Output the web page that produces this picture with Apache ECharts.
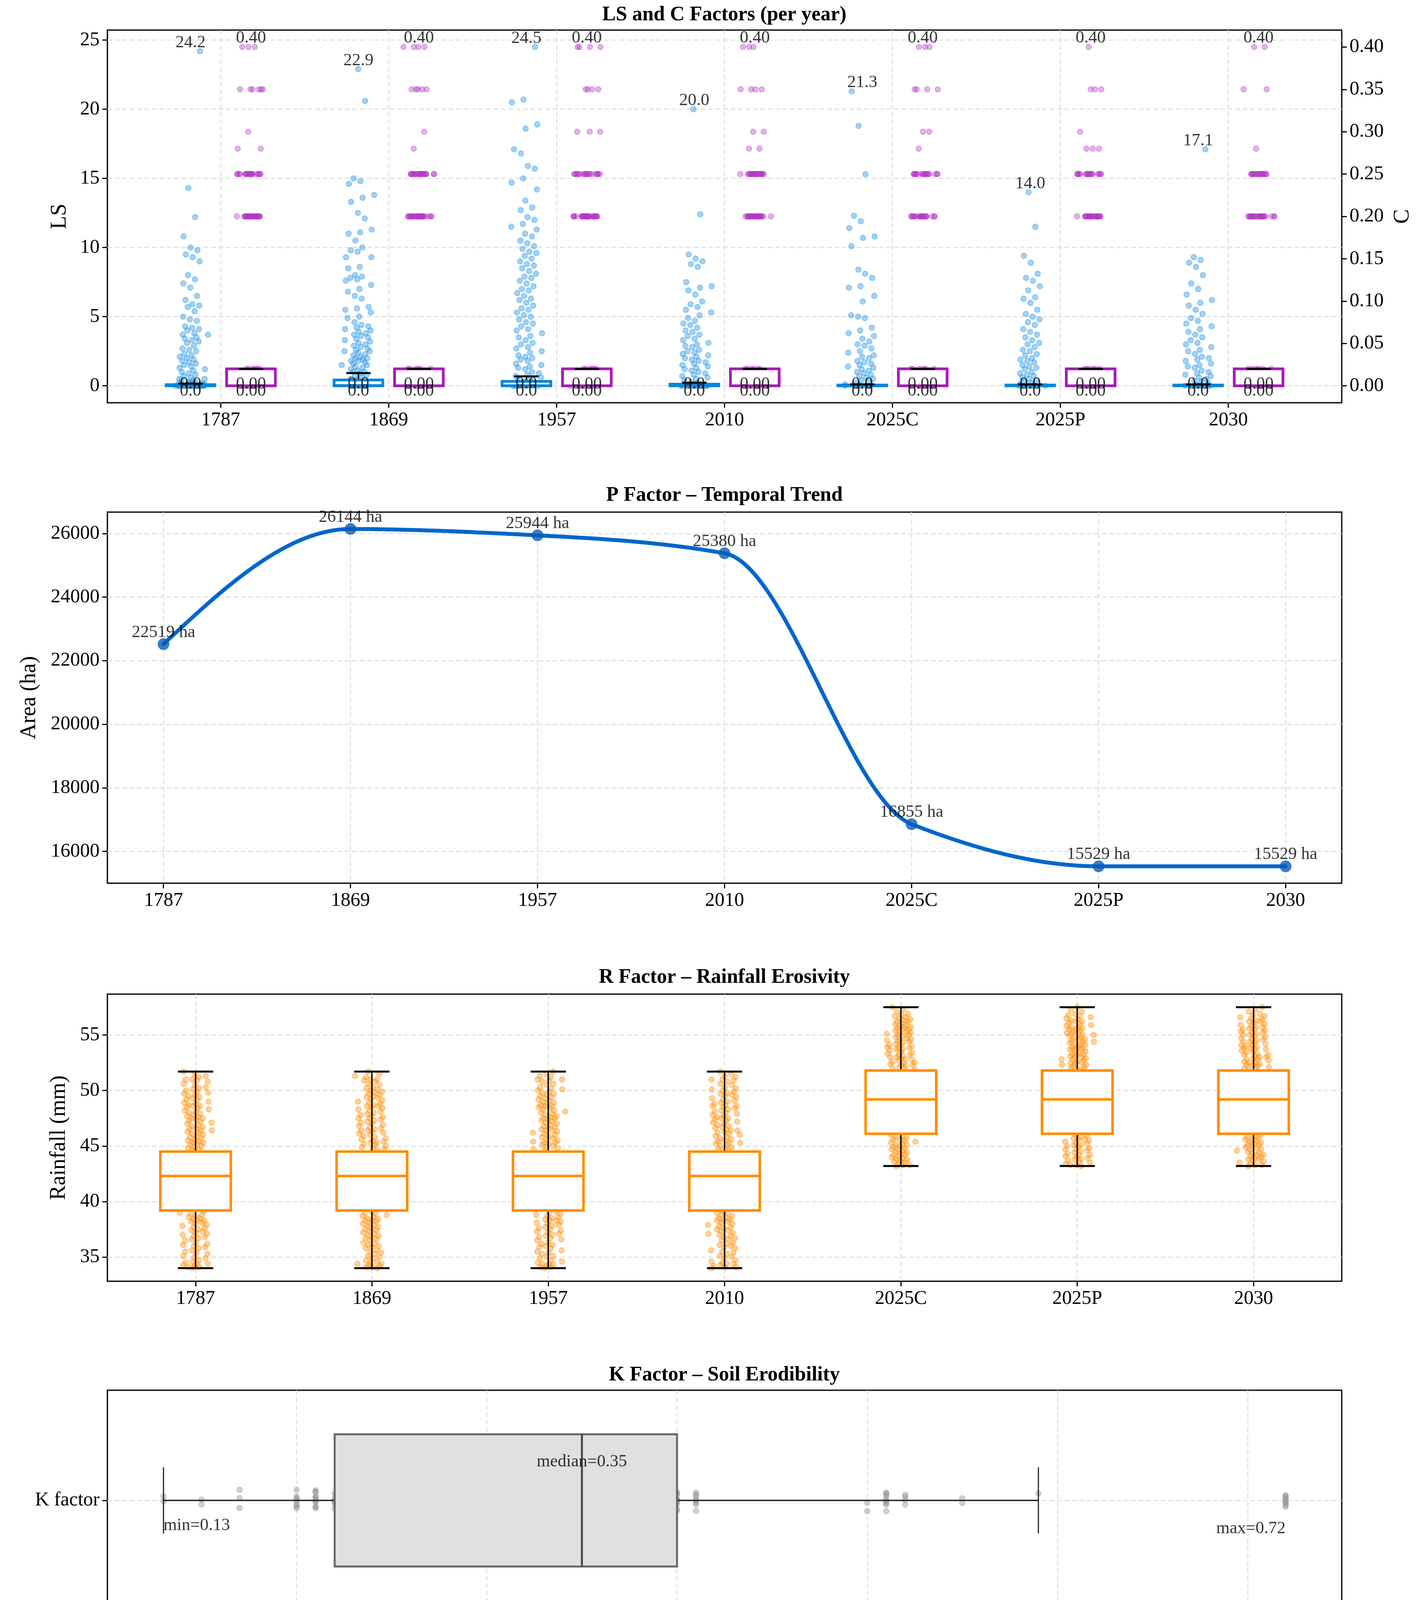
<!DOCTYPE html>
<html>
<head>
<meta charset="utf-8">
<script src="https://cdn.jsdelivr.net/npm/echarts@6/dist/echarts.min.js"></script>
<style>
html,body{margin:0;padding:0;background:#ffffff;}
#c{width:3639px;height:4288px;}
</style>
</head>
<body>
<div id="c"></div>
<script>
// ---------------- DATA ----------------
const years = ['1787', '1869', '1957', '2010', '2025C', '2025P', '2030'];

// LS factor samples per year
const ls1787 = [24.2, 14.3, 12.2, 10.8, 10.0, 9.8, 9.5, 9.3, 9.0, 8.0, 7.7, 7.4, 7.1, 6.5, 6.2, 5.9, 5.8, 5.7, 5.4, 5.0, 4.8, 4.7, 4.3, 4.2, 4.1, 4.0, 3.8, 3.7, 3.7, 3.5, 3.4, 3.3, 3.2, 3.1, 2.9, 2.7, 2.6, 2.5, 2.3, 2.2, 2.1, 2.0, 1.9, 1.8, 1.7, 1.6, 1.5, 1.4, 1.3, 1.2, 1.1, 1.0, 0.9, 0.8, 0.7, 0.6, 0.5, 0.5, 0.4, 0.4, 0.3, 0.3, 0.2, 0.2, 0.2, 0.1, 0.1, 0.1, 0.1, 0.05, 0.05, 0.05, 0, 0, 0, 0, 0, 0, 0, 0, 0, 0, 0, 0, 0, 0, 0, 0];
const ls1869 = [22.9, 20.6, 15.0, 14.8, 14.6, 13.8, 13.6, 13.3, 12.5, 12.1, 11.3, 11.1, 11.0, 10.5, 10.0, 9.8, 9.7, 9.3, 9.3, 8.6, 8.5, 8.0, 7.9, 7.8, 7.7, 7.6, 7.3, 7.0, 6.8, 6.5, 6.3, 5.7, 5.6, 5.5, 5.3, 5.0, 4.9, 4.6, 4.4, 4.3, 4.2, 4.1, 4.0, 3.9, 3.8, 3.7, 3.6, 3.5, 3.4, 3.3, 3.2, 3.1, 3.0, 2.9, 2.8, 2.7, 2.6, 2.5, 2.5, 2.4, 2.3, 2.2, 2.1, 2.0, 2.0, 1.9, 1.8, 1.8, 1.7, 1.6, 1.5, 1.5, 1.4, 1.3, 1.2, 1.1, 1.0, 1.0, 0.9, 0.8, 0.7, 0.6, 0.5, 0.4, 0.3, 0.2, 0.1, 0, 0, 0, 0, 0, 0, 0, 0, 0, 0];
const ls1957 = [24.5, 20.7, 20.5, 18.9, 18.6, 17.1, 16.8, 15.9, 15.7, 15.0, 14.7, 14.2, 13.4, 12.9, 12.7, 12.2, 12.0, 11.7, 11.5, 11.3, 11.0, 10.8, 10.5, 10.3, 10.1, 9.9, 9.7, 9.6, 9.4, 9.2, 9.0, 8.8, 8.7, 8.5, 8.3, 8.1, 7.9, 7.8, 7.6, 7.4, 7.2, 7.0, 6.9, 6.7, 6.5, 6.3, 6.2, 6.0, 5.8, 5.6, 5.5, 5.3, 5.1, 5.0, 4.8, 4.6, 4.5, 4.3, 4.1, 4.0, 3.8, 3.6, 3.5, 3.3, 3.1, 3.0, 2.8, 2.7, 2.5, 2.4, 2.2, 2.1, 2.0, 1.9, 1.8, 1.6, 1.5, 1.4, 1.3, 1.2, 1.0, 0.9, 0.8, 0.7, 0.6, 0.5, 0.4, 0.3, 0.3, 0.2, 0.2, 0.1, 0.1, 0, 0, 0, 0, 0, 0, 0, 0];
const ls2010 = [20.0, 12.4, 9.5, 9.2, 9.0, 8.8, 8.6, 7.5, 7.2, 7.1, 6.9, 6.6, 6.1, 5.9, 5.7, 5.5, 5.3, 5.1, 4.9, 4.7, 4.5, 4.4, 4.2, 4.0, 3.9, 3.7, 3.6, 3.4, 3.3, 3.1, 3.0, 2.9, 2.8, 2.6, 2.5, 2.4, 2.3, 2.2, 2.1, 2.0, 1.9, 1.8, 1.7, 1.6, 1.5, 1.4, 1.3, 1.2, 1.1, 1.0, 0.9, 0.8, 0.7, 0.6, 0.5, 0.4, 0.3, 0.2, 0.1, 0.1, 0, 0, 0, 0, 0, 0, 0, 0, 0, 0];
const ls2025C = [21.3, 18.8, 15.3, 12.3, 11.9, 11.4, 10.8, 10.7, 10.1, 8.4, 8.1, 7.8, 7.2, 7.1, 6.5, 6.1, 5.1, 5.0, 4.9, 4.2, 4.0, 3.8, 3.6, 3.4, 3.2, 3.0, 2.9, 2.7, 2.5, 2.4, 2.2, 2.1, 2.0, 1.8, 1.7, 1.6, 1.5, 1.4, 1.3, 1.2, 1.1, 1.0, 0.9, 0.8, 0.7, 0.6, 0.5, 0.4, 0.3, 0.2, 0.1, 0, 0, 0, 0, 0, 0, 0, 0, 0];
const ls2025P = [14.0, 11.5, 9.4, 8.9, 8.1, 7.8, 7.6, 7.2, 6.9, 6.4, 6.3, 6.0, 5.5, 5.2, 5.0, 4.8, 4.6, 4.4, 4.1, 3.9, 3.7, 3.5, 3.3, 3.1, 3.0, 2.8, 2.6, 2.5, 2.3, 2.2, 2.0, 1.9, 1.8, 1.7, 1.5, 1.4, 1.3, 1.2, 1.0, 0.9, 0.8, 0.7, 0.6, 0.5, 0.4, 0.3, 0.2, 0.1, 0, 0, 0, 0, 0, 0, 0, 0];
const ls2030 = [17.1, 9.3, 9.1, 8.9, 8.6, 8.0, 7.4, 7.0, 6.6, 6.2, 6.0, 5.8, 5.5, 5.2, 4.9, 4.7, 4.5, 4.3, 4.1, 3.9, 3.7, 3.5, 3.3, 3.1, 3.0, 2.8, 2.6, 2.5, 2.3, 2.1, 2.0, 1.9, 1.8, 1.6, 1.5, 1.4, 1.3, 1.1, 1.0, 0.9, 0.8, 0.7, 0.6, 0.5, 0.4, 0.3, 0.2, 0.1, 0, 0, 0, 0, 0, 0, 0, 0];
const lsMin = [0, 0, 0, 0, 0, 0, 0];
const lsQ1 = [0, 0, 0, 0, 0, 0, 0];
const lsMedian = [0, 0.03, 0.02, 0.01, 0, 0, 0];
const lsQ3 = [0.08, 0.42, 0.32, 0.12, 0.05, 0.05, 0.05];
const lsWhiskerHigh = [0.16, 0.92, 0.68, 0.22, 0.1, 0.1, 0.1];

// C factor samples per year
const c1787 = [0.40, 0.40, 0.40, 0.35, 0.35, 0.35, 0.35, 0.35, 0.35, 0.30, 0.28, 0.28, 0.25, 0.25, 0.25, 0.25, 0.25, 0.25, 0.25, 0.25, 0.25, 0.25, 0.25, 0.25, 0.25, 0.25, 0.25, 0.25, 0.25, 0.25, 0.25, 0.25, 0.20, 0.20, 0.20, 0.20, 0.20, 0.20, 0.20, 0.20, 0.20, 0.20, 0.20, 0.20, 0.20, 0.20, 0.20, 0.20, 0.20, 0.20, 0.20, 0.20, 0.20, 0.20, 0.20, 0.20, 0.02, 0.02, 0.02, 0.02, 0.02, 0.02, 0.01, 0.01, 0.01, 0.01, 0, 0, 0, 0, 0, 0, 0, 0];
const c1869 = [0.40, 0.40, 0.40, 0.40, 0.35, 0.35, 0.35, 0.35, 0.35, 0.30, 0.28, 0.25, 0.25, 0.25, 0.25, 0.25, 0.25, 0.25, 0.25, 0.25, 0.25, 0.25, 0.25, 0.25, 0.25, 0.25, 0.25, 0.25, 0.25, 0.25, 0.25, 0.25, 0.25, 0.20, 0.20, 0.20, 0.20, 0.20, 0.20, 0.20, 0.20, 0.20, 0.20, 0.20, 0.20, 0.20, 0.20, 0.20, 0.20, 0.20, 0.20, 0.20, 0.20, 0.20, 0.20, 0.20, 0.20, 0.20, 0.20, 0.02, 0.02, 0.02, 0.02, 0.02, 0.02, 0.01, 0.01, 0.01, 0.01, 0, 0, 0, 0, 0, 0, 0, 0];
const c1957 = [0.40, 0.40, 0.40, 0.40, 0.35, 0.35, 0.35, 0.35, 0.30, 0.30, 0.30, 0.25, 0.25, 0.25, 0.25, 0.25, 0.25, 0.25, 0.25, 0.25, 0.25, 0.25, 0.25, 0.25, 0.25, 0.25, 0.25, 0.25, 0.25, 0.25, 0.25, 0.20, 0.20, 0.20, 0.20, 0.20, 0.20, 0.20, 0.20, 0.20, 0.20, 0.20, 0.20, 0.20, 0.20, 0.20, 0.20, 0.20, 0.20, 0.20, 0.20, 0.20, 0.20, 0.20, 0.20, 0.20, 0.20, 0.20, 0.20, 0.02, 0.02, 0.02, 0.02, 0.02, 0.02, 0.01, 0.01, 0.01, 0.01, 0, 0, 0, 0, 0, 0, 0, 0];
const c2010 = [0.40, 0.40, 0.40, 0.35, 0.35, 0.35, 0.35, 0.30, 0.30, 0.28, 0.28, 0.25, 0.25, 0.25, 0.25, 0.25, 0.25, 0.25, 0.25, 0.25, 0.25, 0.25, 0.25, 0.25, 0.25, 0.25, 0.25, 0.25, 0.25, 0.25, 0.25, 0.20, 0.20, 0.20, 0.20, 0.20, 0.20, 0.20, 0.20, 0.20, 0.20, 0.20, 0.20, 0.20, 0.20, 0.20, 0.20, 0.20, 0.20, 0.20, 0.20, 0.20, 0.20, 0.20, 0.20, 0.02, 0.02, 0.02, 0.02, 0.02, 0.02, 0.01, 0.01, 0.01, 0.01, 0, 0, 0, 0, 0, 0, 0, 0];
const c2025C = [0.40, 0.40, 0.40, 0.35, 0.35, 0.35, 0.35, 0.30, 0.30, 0.28, 0.25, 0.25, 0.25, 0.25, 0.25, 0.25, 0.25, 0.25, 0.25, 0.25, 0.25, 0.25, 0.25, 0.25, 0.25, 0.25, 0.25, 0.25, 0.20, 0.20, 0.20, 0.20, 0.20, 0.20, 0.20, 0.20, 0.20, 0.20, 0.20, 0.20, 0.20, 0.20, 0.20, 0.20, 0.20, 0.20, 0.20, 0.20, 0.02, 0.02, 0.02, 0.02, 0.02, 0.02, 0.01, 0.01, 0.01, 0.01, 0, 0, 0, 0, 0, 0, 0, 0];
const c2025P = [0.40, 0.35, 0.35, 0.35, 0.30, 0.28, 0.28, 0.28, 0.25, 0.25, 0.25, 0.25, 0.25, 0.25, 0.25, 0.25, 0.25, 0.25, 0.25, 0.25, 0.25, 0.25, 0.25, 0.25, 0.25, 0.25, 0.20, 0.20, 0.20, 0.20, 0.20, 0.20, 0.20, 0.20, 0.20, 0.20, 0.20, 0.20, 0.20, 0.20, 0.20, 0.20, 0.20, 0.20, 0.20, 0.20, 0.20, 0.20, 0.02, 0.02, 0.02, 0.02, 0.02, 0.02, 0.01, 0.01, 0.01, 0.01, 0, 0, 0, 0, 0, 0, 0, 0];
const c2030 = [0.40, 0.40, 0.35, 0.35, 0.28, 0.25, 0.25, 0.25, 0.25, 0.25, 0.25, 0.25, 0.25, 0.25, 0.25, 0.25, 0.25, 0.25, 0.25, 0.25, 0.25, 0.25, 0.25, 0.20, 0.20, 0.20, 0.20, 0.20, 0.20, 0.20, 0.20, 0.20, 0.20, 0.20, 0.20, 0.20, 0.20, 0.20, 0.20, 0.20, 0.20, 0.20, 0.20, 0.20, 0.20, 0.20, 0.20, 0.02, 0.02, 0.02, 0.02, 0.02, 0.02, 0.01, 0.01, 0.01, 0.01, 0, 0, 0, 0, 0, 0, 0, 0];
const cMin = [0, 0, 0, 0, 0, 0, 0];
const cQ1 = [0, 0, 0, 0, 0, 0, 0];
const cMedian = [0, 0, 0, 0, 0, 0, 0];
const cQ3 = [0.02, 0.02, 0.02, 0.02, 0.02, 0.02, 0.02];
const cWhiskerHigh = [0.02, 0.02, 0.02, 0.02, 0.02, 0.02, 0.02];

// P factor (area, ha)
const pArea = [22519, 26144, 25944, 25380, 16855, 15529, 15529];

// R factor samples (rainfall, mm)
const rPast = [34.0, 34.1, 34.1, 34.2, 34.3, 34.4, 34.4, 34.5, 34.6, 34.7, 34.9, 35.0, 35.1, 35.3, 35.4, 35.5, 35.6, 35.8, 35.9, 36.0, 36.1, 36.2, 36.3, 36.5, 36.6, 36.7, 36.8, 36.9, 37.0, 37.1, 37.2, 37.3, 37.4, 37.5, 37.6, 37.7, 37.8, 37.9, 38.0, 38.1, 38.2, 38.3, 38.3, 38.4, 38.5, 38.6, 38.7, 38.8, 38.9, 39.0, 39.1,
  39.5, 40.3, 40.9, 41.6, 42.2, 42.8, 43.5, 44.1,
  44.6, 44.7, 44.8, 44.9, 45.0, 45.1, 45.2, 45.3, 45.3, 45.4, 45.5, 45.6, 45.7, 45.8, 45.9, 46.0, 46.1, 46.2, 46.3, 46.4, 46.4, 46.5, 46.6, 46.7, 46.8, 46.9, 47.0, 47.1, 47.2, 47.3, 47.4, 47.5, 47.5, 47.6, 47.7, 47.8, 47.9, 48.0, 48.1, 48.2, 48.3, 48.4, 48.5, 48.6, 48.6, 48.7, 48.8, 48.9, 49.0, 49.1, 49.2, 49.3, 49.4, 49.5, 49.6, 49.7, 49.8, 49.9, 50.0, 50.1, 50.2, 50.3, 50.5, 50.6, 50.8, 50.9, 51.0, 51.0, 51.2, 51.3, 51.5, 51.7];
const rFuture = [43.2, 43.3, 43.3, 43.4, 43.5, 43.6, 43.7, 43.8, 43.8, 43.9, 44.0, 44.1, 44.2, 44.2, 44.3, 44.4, 44.5, 44.6, 44.7, 44.7, 44.8, 44.9, 45.0, 45.1, 45.1, 45.2, 45.3, 45.4, 45.5, 45.6, 45.6, 45.7, 45.8, 45.9, 46.0,
  46.6, 47.3, 47.9, 48.6, 49.4, 50.1, 50.7, 51.4,
  51.9, 52.0, 52.0, 52.1, 52.2, 52.3, 52.3, 52.4, 52.5, 52.5, 52.6, 52.7, 52.8, 52.8, 52.9, 53.0, 53.0, 53.1, 53.2, 53.2, 53.3, 53.4, 53.5, 53.6, 53.7, 53.7, 53.8, 53.8, 53.9, 54.0, 54.1, 54.1, 54.2, 54.3, 54.4, 54.4, 54.5, 54.6, 54.6, 54.7, 54.8, 54.9, 55.0, 55.0, 55.1, 55.2, 55.2, 55.3, 55.4, 55.5, 55.5, 55.6, 55.7, 55.7, 55.8, 55.9, 56.0, 56.1, 56.2, 56.2, 56.3, 56.4, 56.5, 56.6, 56.7, 56.8, 56.9, 57.1, 57.3, 57.5];
const rWhiskerLow = [34.0, 34.0, 34.0, 34.0, 43.2, 43.2, 43.2];
const rQ1 = [39.2, 39.2, 39.2, 39.2, 46.1, 46.1, 46.1];
const rMedian = [42.3, 42.3, 42.3, 42.3, 49.2, 49.2, 49.2];
const rQ3 = [44.5, 44.5, 44.5, 44.5, 51.8, 51.8, 51.8];
const rWhiskerHigh = [51.7, 51.7, 51.7, 51.7, 57.5, 57.5, 57.5];

// K factor samples
const kPoints = [0.13, 0.13, 0.15, 0.15, 0.17, 0.17, 0.17, 0.20, 0.20, 0.20, 0.20, 0.20, 0.20, 0.20, 0.20, 0.21, 0.21, 0.21, 0.21, 0.21, 0.21, 0.21, 0.21, 0.21, 0.21, 0.21, 0.21, 0.22, 0.22, 0.22, 0.22, 0.22, 0.22, 0.26, 0.30, 0.33, 0.35, 0.38, 0.40, 0.40, 0.40, 0.40, 0.40, 0.40, 0.40, 0.40, 0.40, 0.40, 0.41, 0.41, 0.41, 0.41, 0.41, 0.41, 0.41, 0.41, 0.50, 0.50, 0.51, 0.51, 0.51, 0.51, 0.51, 0.51, 0.51, 0.51, 0.51, 0.51, 0.52, 0.52, 0.52, 0.52, 0.55, 0.55, 0.59, 0.72, 0.72, 0.72, 0.72, 0.72, 0.72, 0.72, 0.72, 0.72, 0.72];
const kMin = 0.13, kQ1 = 0.22, kMedian = 0.35, kQ3 = 0.40, kWhiskerHigh = 0.59, kMax = 0.72;

// ---------------- BUILD ----------------
const FONT = 'Liberation Serif';
const lsGroups = [ls1787, ls1869, ls1957, ls2010, ls2025C, ls2025P, ls2030];
const cGroups = [c1787, c1869, c1957, c2010, c2025C, c2025P, c2030];
const rGroups = [rPast, rPast, rPast, rPast, rFuture, rFuture, rFuture];
const catIdx = years.map((_, i) => i);

function frac(v) { return v - Math.floor(v); }
// deterministic (non-random) spreading of overlapping points around a position
function spreadOffset(k, g, seed) {
  const u = frac((k + 1) * 0.6180339887 + g * 0.1234 + seed);
  const w = frac((k + 1) * 0.7548776662 + g * 0.3571 + seed * 1.7);
  return (u + w - 1);
}
function jitterVertical(groups, offset, spread, seed) {
  const out = [];
  groups.forEach((vals, i) => vals.forEach((v, k) => {
    out.push([i + offset + spreadOffset(k, i, seed) * spread, v]);
  }));
  return out;
}

const LS_OFF = -0.18, C_OFF = 0.18;

function boxRenderer(o) {
  return function (params, api) {
    const pos = api.value(0), lo = api.value(1), q1 = api.value(2), med = api.value(3), q3 = api.value(4), hi = api.value(5);
    const c = o.horizontal ? (p, v) => api.coord([v, p]) : (p, v) => api.coord([p, v]);
    const hw = o.width / 2, cw = o.capWidth / 2;
    const ln = (a, b, style) => ({ type: 'line', shape: { x1: a[0], y1: a[1], x2: b[0], y2: b[1] }, style: style });
    const ws = { stroke: o.whiskerColor, lineWidth: o.whiskerWidth };
    const cs = { stroke: o.whiskerColor, lineWidth: o.capLineWidth };
    const a = c(pos - hw, q1), b = c(pos + hw, q3);
    const children = [
      ln(c(pos, q1), c(pos, lo), ws),
      ln(c(pos, q3), c(pos, hi), ws),
      ln(c(pos - cw, lo), c(pos + cw, lo), cs),
      { type: 'rect', shape: { x: Math.min(a[0], b[0]), y: Math.min(a[1], b[1]), width: Math.abs(b[0] - a[0]), height: Math.abs(b[1] - a[1]) },
        style: { fill: o.fill, stroke: o.color, lineWidth: o.lineWidth } },
      ln(c(pos - hw, med), c(pos + hw, med), { stroke: o.medianColor, lineWidth: o.medianWidth }),
      ln(c(pos - cw, hi), c(pos + cw, hi), cs)
    ];
    return { type: 'group', children: children };
  };
}

// PCHIP tangents for the P-factor curve shape
function pchipSlopes(y) {
  const n = y.length, d = [], m = new Array(n).fill(0);
  for (let k = 0; k < n - 1; k++) d.push(y[k + 1] - y[k]);
  for (let k = 1; k < n - 1; k++) {
    if (d[k - 1] * d[k] > 0) m[k] = 2 / (1 / d[k - 1] + 1 / d[k]);
  }
  const edge = (d0, d1) => {
    let mm = (3 * d0 - d1) / 2;
    if (Math.sign(mm) !== Math.sign(d0)) mm = 0;
    else if (Math.sign(d0) !== Math.sign(d1) && Math.abs(mm) > 3 * Math.abs(d0)) mm = 3 * d0;
    return mm;
  };
  m[0] = edge(d[0], d[1]);
  m[n - 1] = edge(d[n - 2], d[n - 3]);
  return m;
}
const pSlopes = pchipSlopes(pArea);

const gridLine = { show: true, lineStyle: { color: '#dcdcdc', width: 2.5, type: [12, 7] } };
const tickBase = { show: true, inside: false, length: 13, lineStyle: { color: '#000', width: 3 } };
const labelBase = { fontFamily: FONT, fontSize: 50, color: '#000', margin: 20 };
const nameStyle = { fontFamily: FONT, fontSize: 56, color: '#000' };
const noLine = { show: false, onZero: false };

function catXAxis(gridIndex, min, max) {
  return {
    gridIndex: gridIndex, type: 'value', min: min, max: max,
    axisLine: noLine,
    axisTick: Object.assign({}, tickBase, { customValues: catIdx }),
    axisLabel: Object.assign({}, labelBase, { customValues: catIdx, formatter: v => years[Math.round(v)] }),
    splitLine: gridLine
  };
}

// label helpers
const txtLabel = (text, dx, dy, align) => ({
  show: true, position: 'inside', formatter: text, offset: [dx, dy],
  fontFamily: FONT, fontSize: 44, color: '#000', align: align || 'center', verticalAlign: 'middle'
});
const lsLabelData = [], cLabelData = [];
years.forEach((y, i) => {
  const lsTop = Math.max.apply(null, lsGroups[i]);
  lsLabelData.push({ value: [i + LS_OFF, lsTop], label: txtLabel(lsTop.toFixed(1), 0, -22) });
  lsLabelData.push({ value: [i + LS_OFF, lsMedian[i]], label: txtLabel(lsMedian[i].toFixed(1), 0, -4) });
  lsLabelData.push({ value: [i + LS_OFF, lsMin[i]], label: txtLabel(lsMin[i].toFixed(1), 0, 14) });
  const cTop = Math.max.apply(null, cGroups[i]);
  cLabelData.push({ value: [i + C_OFF, cTop], label: txtLabel(cTop.toFixed(2), 0, -23) });
  cLabelData.push({ value: [i + C_OFF, cMedian[i]], label: txtLabel(cMedian[i].toFixed(2), 0, -4) });
  cLabelData.push({ value: [i + C_OFF, cMin[i]], label: txtLabel(cMin[i].toFixed(2), 0, 14) });
});

const labelSeriesBase = { type: 'scatter', symbolSize: 1, itemStyle: { color: 'rgba(0,0,0,0)' }, silent: true, z: 6 };

const kScatter = kPoints.map((v, k) => [v, 1 + spreadOffset(k, 0, 0.21) * 0.06]);

const FONT_TITLE = 'bold 52px "Liberation Serif"';
function titleText(text, y) {
  return { type: 'text', x: 1855, y: y, z: 10,
    style: { text: text, font: FONT_TITLE, fill: '#000', textFill: '#000', align: 'center', verticalAlign: 'middle', textAlign: 'center', textVerticalAlign: 'middle' } };
}

const option = {
  animation: false,
  backgroundColor: '#ffffff',
  textStyle: { fontFamily: FONT },
  graphic: [
    titleText('LS and C Factors (per year)', 39),
    titleText('P Factor \u2013 Temporal Trend', 1269),
    titleText('R Factor \u2013 Rainfall Erosivity', 2503),
    titleText('K Factor \u2013 Soil Erodibility', 3521)
  ],
  grid: [
    { left: 275, top: 77, width: 3161, height: 954, show: true, borderColor: '#111', borderWidth: 3.5, backgroundColor: 'transparent', outerBoundsMode: 'none', containLabel: false },
    { left: 275, top: 1311, width: 3161, height: 950, show: true, borderColor: '#111', borderWidth: 3.5, backgroundColor: 'transparent', outerBoundsMode: 'none', containLabel: false },
    { left: 275, top: 2545, width: 3161, height: 735, show: true, borderColor: '#111', borderWidth: 3.5, backgroundColor: 'transparent', outerBoundsMode: 'none', containLabel: false },
    { left: 275, top: 3559, width: 3161, height: 564, show: true, borderColor: '#111', borderWidth: 3.5, backgroundColor: 'transparent', outerBoundsMode: 'none', containLabel: false }
  ],
  xAxis: [
    catXAxis(0, -0.675, 6.675),
    catXAxis(1, -0.3, 6.3),
    catXAxis(2, -0.5, 6.5),
    {
      gridIndex: 3, type: 'value', min: 0.1005, max: 0.7495,
      axisLine: noLine,
      axisTick: Object.assign({}, tickBase, { customValues: [0.2, 0.3, 0.4, 0.5, 0.6, 0.7] }),
      axisLabel: Object.assign({}, labelBase, { customValues: [0.2, 0.3, 0.4, 0.5, 0.6, 0.7], formatter: v => v.toFixed(1) }),
      splitLine: gridLine,
      name: 'K value', nameLocation: 'middle', nameGap: 86, nameTextStyle: nameStyle
    }
  ],
  yAxis: [
    {
      gridIndex: 0, type: 'value', min: -1.225, max: 25.725, position: 'left',
      axisLine: noLine,
      axisTick: Object.assign({}, tickBase, { customValues: [0, 5, 10, 15, 20, 25] }),
      axisLabel: Object.assign({}, labelBase, { customValues: [0, 5, 10, 15, 20, 25], formatter: v => String(v) }),
      splitLine: gridLine,
      name: 'LS', nameLocation: 'middle', nameGap: 94, nameTextStyle: nameStyle
    },
    {
      gridIndex: 0, type: 'value', min: -0.02, max: 0.42, position: 'right',
      axisLine: noLine,
      axisTick: Object.assign({}, tickBase, { customValues: [0, 0.05, 0.1, 0.15, 0.2, 0.25, 0.3, 0.35, 0.4] }),
      axisLabel: Object.assign({}, labelBase, { customValues: [0, 0.05, 0.1, 0.15, 0.2, 0.25, 0.3, 0.35, 0.4], formatter: v => v.toFixed(2) }),
      splitLine: { show: false },
      name: 'C', nameLocation: 'middle', nameGap: 128, nameTextStyle: nameStyle
    },
    {
      gridIndex: 1, type: 'value', min: 14998, max: 26675,
      axisLine: noLine,
      axisTick: Object.assign({}, tickBase, { customValues: [16000, 18000, 20000, 22000, 24000, 26000] }),
      axisLabel: Object.assign({}, labelBase, { customValues: [16000, 18000, 20000, 22000, 24000, 26000], formatter: v => String(v) }),
      splitLine: gridLine,
      name: 'Area (ha)', nameLocation: 'middle', nameGap: 172, nameTextStyle: nameStyle
    },
    {
      gridIndex: 2, type: 'value', min: 32.825, max: 58.675,
      axisLine: noLine,
      axisTick: Object.assign({}, tickBase, { customValues: [35, 40, 45, 50, 55] }),
      axisLabel: Object.assign({}, labelBase, { customValues: [35, 40, 45, 50, 55], formatter: v => String(v) }),
      splitLine: gridLine,
      name: 'Rainfall (mm)', nameLocation: 'middle', nameGap: 96, nameTextStyle: nameStyle
    },
    {
      gridIndex: 3, type: 'value', min: 0.5, max: 1.5,
      axisLine: noLine,
      axisTick: Object.assign({}, tickBase, { customValues: [1] }),
      axisLabel: Object.assign({}, labelBase, { customValues: [1], formatter: v => (Math.abs(v - 1) < 1e-9 ? 'K factor' : '') }),
      splitLine: gridLine
    }
  ],
  series: [
    // ---- LS & C ----
    {
      name: 'LS points', type: 'scatter', xAxisIndex: 0, yAxisIndex: 0, silent: true, z: 2,
      data: jitterVertical(lsGroups, LS_OFF, 0.11, 0.05),
      symbolSize: 14, itemStyle: { color: '#1a8fe3', opacity: 0.4, borderColor: '#1a8fe3', borderWidth: 2 }
    },
    {
      name: 'C points', type: 'scatter', xAxisIndex: 0, yAxisIndex: 1, silent: true, z: 2,
      data: jitterVertical(cGroups, C_OFF, 0.1, 0.41),
      symbolSize: 14, itemStyle: { color: '#b337c4', opacity: 0.38, borderColor: '#b337c4', borderWidth: 2 }
    },
    {
      name: 'LS box', type: 'custom', xAxisIndex: 0, yAxisIndex: 0, silent: true, z: 4,
      renderItem: boxRenderer({ width: 0.29, capWidth: 0.145, color: '#0a86d8', fill: '#ffffff', lineWidth: 7, medianColor: '#0a86d8', medianWidth: 6, whiskerColor: '#000', whiskerWidth: 3.5, capLineWidth: 5 }),
      data: years.map((y, i) => [i + LS_OFF, lsMin[i], lsQ1[i], lsMedian[i], lsQ3[i], lsWhiskerHigh[i]])
    },
    {
      name: 'C box', type: 'custom', xAxisIndex: 0, yAxisIndex: 1, silent: true, z: 4,
      renderItem: boxRenderer({ width: 0.29, capWidth: 0.145, color: '#a31db5', fill: '#ffffff', lineWidth: 7, medianColor: '#a31db5', medianWidth: 6, whiskerColor: '#000', whiskerWidth: 3.5, capLineWidth: 5 }),
      data: years.map((y, i) => [i + C_OFF, cMin[i], cQ1[i], cMedian[i], cQ3[i], cWhiskerHigh[i]])
    },
    Object.assign({}, labelSeriesBase, { name: 'LS labels', xAxisIndex: 0, yAxisIndex: 0, data: lsLabelData }),
    Object.assign({}, labelSeriesBase, { name: 'C labels', xAxisIndex: 0, yAxisIndex: 1, data: cLabelData }),
    // ---- P ----
    {
      name: 'P curve', type: 'custom', xAxisIndex: 1, yAxisIndex: 2, silent: true, z: 3,
      data: pArea.map((v, i) => [i, v]),
      renderItem: function (params, api) {
        const k = params.dataIndex;
        if (k >= pArea.length - 1) return { type: 'group', children: [] };
        const p0 = api.coord([k, pArea[k]]), p1 = api.coord([k + 1, pArea[k + 1]]);
        const c1 = api.coord([k + 1 / 3, pArea[k] + pSlopes[k] / 3]);
        const c2 = api.coord([k + 2 / 3, pArea[k + 1] - pSlopes[k + 1] / 3]);
        return { type: 'bezierCurve',
          shape: { x1: p0[0], y1: p0[1], x2: p1[0], y2: p1[1], cpx1: c1[0], cpy1: c1[1], cpx2: c2[0], cpy2: c2[1] },
          style: { stroke: '#0066cc', lineWidth: 10, fill: null, lineCap: 'round' } };
      }
    },
    {
      name: 'P points', type: 'scatter', xAxisIndex: 1, yAxisIndex: 2, silent: true, z: 5,
      data: pArea.map((v, i) => [i, v]),
      symbolSize: 30, itemStyle: { color: '#0a5cb8' },
      label: { show: true, position: 'inside', offset: [0, -30], formatter: p => p.value[1] + ' ha', fontFamily: FONT, fontSize: 44, color: '#000' }
    },
    // ---- R ----
    {
      name: 'R points', type: 'scatter', xAxisIndex: 2, yAxisIndex: 3, silent: true, z: 2,
      data: jitterVertical(rGroups, 0, 0.1, 0.17),
      symbolSize: 14, itemStyle: { color: '#ff8c00', opacity: 0.4, borderColor: '#ff8c00', borderWidth: 2 }
    },
    {
      name: 'R box', type: 'custom', xAxisIndex: 2, yAxisIndex: 3, silent: true, z: 4,
      renderItem: boxRenderer({ width: 0.4, capWidth: 0.2, color: '#ff8c00', fill: '#ffffff', lineWidth: 6.5, medianColor: '#ff8c00', medianWidth: 6.5, whiskerColor: '#000', whiskerWidth: 3.5, capLineWidth: 5 }),
      data: years.map((y, i) => [i, rWhiskerLow[i], rQ1[i], rMedian[i], rQ3[i], rWhiskerHigh[i]])
    },
    // ---- K ----
    {
      name: 'K points', type: 'scatter', xAxisIndex: 3, yAxisIndex: 4, silent: true, z: 2,
      data: kScatter,
      symbolSize: 14, itemStyle: { color: '#9a9a9a', opacity: 0.45, borderColor: '#9a9a9a', borderWidth: 2 }
    },
    {
      name: 'K box', type: 'custom', xAxisIndex: 3, yAxisIndex: 4, silent: true, z: 4,
      renderItem: boxRenderer({ horizontal: true, width: 0.6, capWidth: 0.3, color: '#666666', fill: '#e0e0e0', lineWidth: 5, medianColor: '#444444', medianWidth: 5, whiskerColor: '#222', whiskerWidth: 3.5, capLineWidth: 3 }),
      data: [[1, kMin, kQ1, kMedian, kQ3, kWhiskerHigh]]
    },
    Object.assign({}, labelSeriesBase, {
      name: 'K labels', xAxisIndex: 3, yAxisIndex: 4,
      data: [
        { value: [kMedian, 1.174], label: txtLabel('median=' + kMedian.toFixed(2), 0, 0) },
        { value: [kMin, 0.885], label: txtLabel('min=' + kMin.toFixed(2), 0, 0, 'left') },
        { value: [kMax, 0.872], label: txtLabel('max=' + kMax.toFixed(2), 0, 0, 'right') }
      ]
    })
  ]
};

const chart = echarts.init(document.getElementById('c'), null, { renderer: 'canvas', width: 3639, height: 4288 });
chart.setOption(option);
</script>
</body>
</html>
